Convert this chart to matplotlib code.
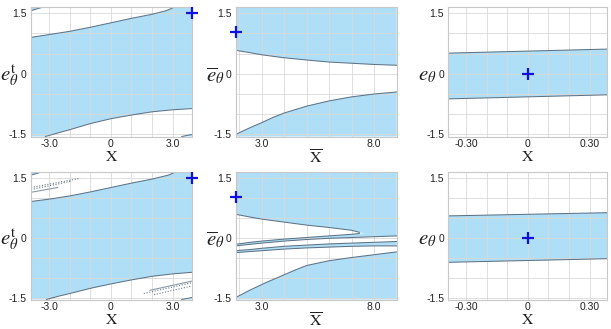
import numpy as np
import matplotlib
matplotlib.use("Agg")
import matplotlib.pyplot as plt

plt.rcParams['font.family'] = ['Liberation Sans', 'DejaVu Sans']
plt.rcParams['mathtext.fontset'] = 'stix'

# ---------------- data ----------------
# Panel 1 (top-left): e_theta^t vs X
p1_up_x = [-3.9, -3.0, -2.0, -1.0, 0.0, 1.0, 2.0, 2.7, 3.1]
p1_up_y = [0.90, 0.97, 1.05, 1.15, 1.26, 1.37, 1.47, 1.56, 1.65]
p1_lo_x = [-3.2, -2.5, -2.0, -1.0, 0.0, 1.0, 2.0, 3.0, 3.95]
p1_lo_y = [-1.55, -1.45, -1.38, -1.23, -1.11, -1.02, -0.94, -0.89, -0.86]
p1_tl_x = [-3.9, -3.3]
p1_tl_y = [1.56, 1.65]
p1_br_x = [3.45, 3.95]
p1_br_y = [-1.55, -1.50]
p1_pt = (3.95, 1.5)

# Panel 2 (top-middle): e_bar vs X_bar
p2_up_x = [1.85, 2.5, 3.0, 3.93, 5.0, 6.0, 7.0, 8.0, 9.0]
p2_up_y = [0.58, 0.52, 0.47, 0.40, 0.34, 0.29, 0.26, 0.23, 0.21]
p2_lo_x = [1.85, 2.3, 2.7, 3.0, 3.5, 4.0, 5.0, 6.0, 7.0, 8.0, 9.0]
p2_lo_y = [-1.50, -1.38, -1.28, -1.21, -1.08, -0.97, -0.80, -0.67, -0.57, -0.50, -0.45]
p2_pt = (1.85, 1.02)

# Panel 3 (top-right): e_theta vs X
p3_x = [-0.385, 0.385]
p3_up_y = [0.51, 0.61]
p3_lo_y = [-0.62, -0.52]
p3_pt = (0.0, 0.0)

# Panel 4 (bottom-left)
p4_up_x = [-3.9, -3.0, -2.0, -1.0, 0.0, 1.0, 2.0, 2.8, 3.2]
p4_up_y = [0.90, 0.96, 1.04, 1.14, 1.25, 1.36, 1.46, 1.56, 1.65]
p4_lo_x = [-3.15, -2.5, -2.0, -1.0, 0.0, 1.0, 2.0, 3.0, 3.95]
p4_lo_y = [-1.55, -1.46, -1.40, -1.27, -1.16, -1.06, -0.97, -0.91, -0.87]
p4_tl_x = [-3.9, -3.3]
p4_tl_y = [1.56, 1.65]
p4_br_x = [3.45, 3.95]
p4_br_y = [-1.55, -1.50]
p4_dots = [([-3.9, -1.5], [1.25, 1.48]),
           ([-3.9, -1.9], [1.20, 1.41]),
           ([1.6, 3.95], [-1.40, -1.13]),
           ([2.1, 3.95], [-1.43, -1.21])]
p4_solid = [([-3.9, -2.6], [1.13, 1.25]),
            ([1.9, 3.95], [-1.32, -1.09])]
p4_pt = (3.95, 1.5)

# Panel 5 (bottom-middle)
p5_up_x = [1.85, 2.5, 3.0, 3.93, 5.0, 6.0, 7.0, 7.34]
p5_up_y = [0.58, 0.51, 0.46, 0.39, 0.31, 0.25, 0.18, 0.13]
p5_s1top_x = [1.85, 2.5, 3.0, 4.0, 5.0, 6.0, 7.0, 7.34]
p5_s1top_y = [-0.17, -0.12, -0.09, -0.04, 0.00, 0.04, 0.08, 0.10]
p5_s1bot_x = [1.85, 2.5, 3.0, 4.0, 5.0, 6.0, 7.0, 8.0, 9.0]
p5_s1bot_y = [-0.21, -0.17, -0.14, -0.09, -0.05, -0.02, 0.00, 0.02, 0.04]
p5_s2_x = [1.85, 2.5, 3.0, 4.0, 5.0, 6.0, 7.0, 8.0, 9.0]
p5_s2top_y = [-0.33, -0.30, -0.27, -0.22, -0.19, -0.16, -0.14, -0.12, -0.10]
p5_s2bot_y = [-0.38, -0.35, -0.33, -0.29, -0.26, -0.24, -0.22, -0.21, -0.21]
p5_lo_x = [1.85, 2.5, 3.22, 3.93, 4.5, 5.0, 6.0, 7.0, 8.0, 9.0]
p5_lo_y = [-1.50, -1.31, -1.12, -0.95, -0.81, -0.70, -0.58, -0.50, -0.43, -0.36]
p5_pt = (1.85, 1.02)

# Panel 6 (bottom-right)
p6_x = [-0.385, 0.385]
p6_up_y = [0.54, 0.62]
p6_lo_y = [-0.62, -0.53]
p6_pt = (0.0, 0.0)

# ticks
y_ticks = [-1.5, 0, 1.5]
y_labels = ['-1.5', '0', '1.5']
xa_ticks = [-3.0, 0, 3.0]
xa_labels = ['-3.0', '0', '3.0']
xb_ticks = [3.0, 8.0]
xb_labels = ['3.0', '8.0']
xc_ticks = [-0.30, 0, 0.30]
xc_labels = ['-0.30', '0', '0.30']

# ---------------- style ----------------
FILL = '#aedff7'
EDGE = '#5e7386'
GRID = '#d9d9d9'
W, H = 611, 329
YL = (-1.55, 1.65)

fig = plt.figure(figsize=(W / 100, H / 100), dpi=100)


def make_ax(l, t, r, b):
    return fig.add_axes([l / W, 1 - b / H, (r - l) / W, (b - t) / H])


def style(ax, xlim, xt, xl, xminor, ylab, xlab, ylab_x):
    ax.set_xlim(*xlim)
    ax.set_ylim(*YL)
    ax.set_xticks(xt, xl)
    ax.set_yticks(y_ticks, y_labels)
    ax.set_xticks(xminor, minor=True)
    ax.set_yticks(np.arange(-1.5, 1.51, 0.5), minor=True)
    ax.tick_params(which='both', length=0, labelsize=7.5, colors='#222222')
    ax.tick_params(axis='x', pad=1.5)
    ax.tick_params(axis='y', pad=3)
    ax.grid(True, which='both', color=GRID, lw=0.6)
    for s in ax.spines.values():
        s.set_color('#c8c8c8')
        s.set_linewidth(0.8)
    ax.set_xlabel(xlab, fontsize=11.5, labelpad=0.5, color='#222222')
    ax.set_ylabel(ylab, fontsize=15, rotation=0, ha='right', va='center', color='#222222')
    ax.yaxis.set_label_coords(ylab_x, 0.47)


def poly(ax, xs, ys):
    ax.fill(xs, ys, color=FILL, lw=0, zorder=1)


def edge(ax, xs, ys):
    ax.plot(xs, ys, color=EDGE, lw=0.75, zorder=2)


def plus(ax, pt):
    ax.plot([pt[0]], [pt[1]], marker='+', color='#1010e0', ms=8, mew=1.6, zorder=5, clip_on=False)


def panel_a(ax, ux, uy, lx, ly, tlx, tly, brx, bry, pt):
    x0, x1 = -3.9, 3.95
    y0, y1 = YL
    xs = [x0] + lx + [x1] + ux[::-1]
    ys = [y0] + ly + [y1] + uy[::-1]
    poly(ax, xs, ys)
    edge(ax, ux, uy)
    edge(ax, lx, ly)
    poly(ax, [x0] + tlx, tly[:1] + [y1, y1])
    edge(ax, tlx, [tly[0], tly[1]])
    poly(ax, brx + [x1], [bry[0], bry[1], y0])
    edge(ax, brx, bry)
    plus(ax, pt)
    style(ax, (x0, x1), xa_ticks, xa_labels, np.arange(-3, 4, 1.0),
          r'$e_\theta^{\mathrm{t}}$', r'$\mathrm{X}$', -0.075)


def panel_c(ax, xs_, uy, ly, pt):
    x0, x1 = xs_
    poly(ax, [x0, x1, x1, x0], [ly[0], ly[1], uy[1], uy[0]])
    edge(ax, xs_, uy)
    edge(ax, xs_, ly)
    plus(ax, pt)
    style(ax, (x0, x1), xc_ticks, xc_labels, np.arange(-0.3, 0.31, 0.1),
          r'$e_\theta$', r'$\mathrm{X}$', -0.075)


rows = [(7, 136.5), (171.5, 299.5)]
cols = [(31, 192), (235.7, 396.7), (448.3, 607.3)]

# Panel 1
ax = make_ax(cols[0][0], rows[0][0], cols[0][1], rows[0][1])
panel_a(ax, p1_up_x, p1_up_y, p1_lo_x, p1_lo_y, p1_tl_x, p1_tl_y, p1_br_x, p1_br_y, p1_pt)

# Panel 2
ax = make_ax(cols[1][0], rows[0][0], cols[1][1], rows[0][1])
x0, x1 = 1.85, 9.0
y0, y1 = YL
poly(ax, p2_up_x + [x1, x0], p2_up_y + [y1, y1])
poly(ax, p2_lo_x + [x1, x0], p2_lo_y + [y0, y0])
edge(ax, p2_up_x, p2_up_y)
edge(ax, p2_lo_x, p2_lo_y)
plus(ax, p2_pt)
style(ax, (x0, x1), xb_ticks, xb_labels, np.arange(2, 10, 1.0),
      r'$\overline{e}_\theta$', r'$\overline{\mathrm{X}}$', -0.07)

# Panel 3
ax = make_ax(cols[2][0], rows[0][0], cols[2][1], rows[0][1])
panel_c(ax, p3_x, p3_up_y, p3_lo_y, p3_pt)

# Panel 4
ax = make_ax(cols[0][0], rows[1][0], cols[0][1], rows[1][1])
panel_a(ax, p4_up_x, p4_up_y, p4_lo_x, p4_lo_y, p4_tl_x, p4_tl_y, p4_br_x, p4_br_y, p4_pt)
for dx, dy in p4_dots:
    ax.plot(dx, dy, ls=(0, (1, 1.5)), color='#6a7a88', lw=0.8, zorder=2)
for dx, dy in p4_solid:
    ax.plot(dx, dy, color='#8a98a4', lw=0.8, zorder=2)

# Panel 5
ax = make_ax(cols[1][0], rows[1][0], cols[1][1], rows[1][1])
tip_x = p5_up_x[-1]
top_xs = [x0] + p5_up_x + [x for x in p5_s1bot_x if x > tip_x] + [x1, x0]
top_ys = [y1] + p5_up_y + [y for x, y in zip(p5_s1bot_x, p5_s1bot_y) if x > tip_x] + [y1, y1]
poly(ax, top_xs, top_ys)
poly(ax, p5_s1top_x + p5_s1bot_x[::-1], p5_s1top_y + p5_s1bot_y[::-1])
poly(ax, p5_s2_x + p5_s2_x[::-1], p5_s2top_y + p5_s2bot_y[::-1])
poly(ax, p5_lo_x + [x1, x0], p5_lo_y + [y0, y0])
edge(ax, p5_up_x, p5_up_y)
edge(ax, p5_s1top_x, p5_s1top_y)
edge(ax, p5_s1bot_x, p5_s1bot_y)
edge(ax, p5_s2_x, p5_s2top_y)
edge(ax, p5_s2_x, p5_s2bot_y)
edge(ax, p5_lo_x, p5_lo_y)
plus(ax, p5_pt)
style(ax, (x0, x1), xb_ticks, xb_labels, np.arange(2, 10, 1.0),
      r'$\overline{e}_\theta$', r'$\overline{\mathrm{X}}$', -0.07)

# Panel 6
ax = make_ax(cols[2][0], rows[1][0], cols[2][1], rows[1][1])
panel_c(ax, p6_x, p6_up_y, p6_lo_y, p6_pt)

fig.savefig('out.png', dpi=100)
